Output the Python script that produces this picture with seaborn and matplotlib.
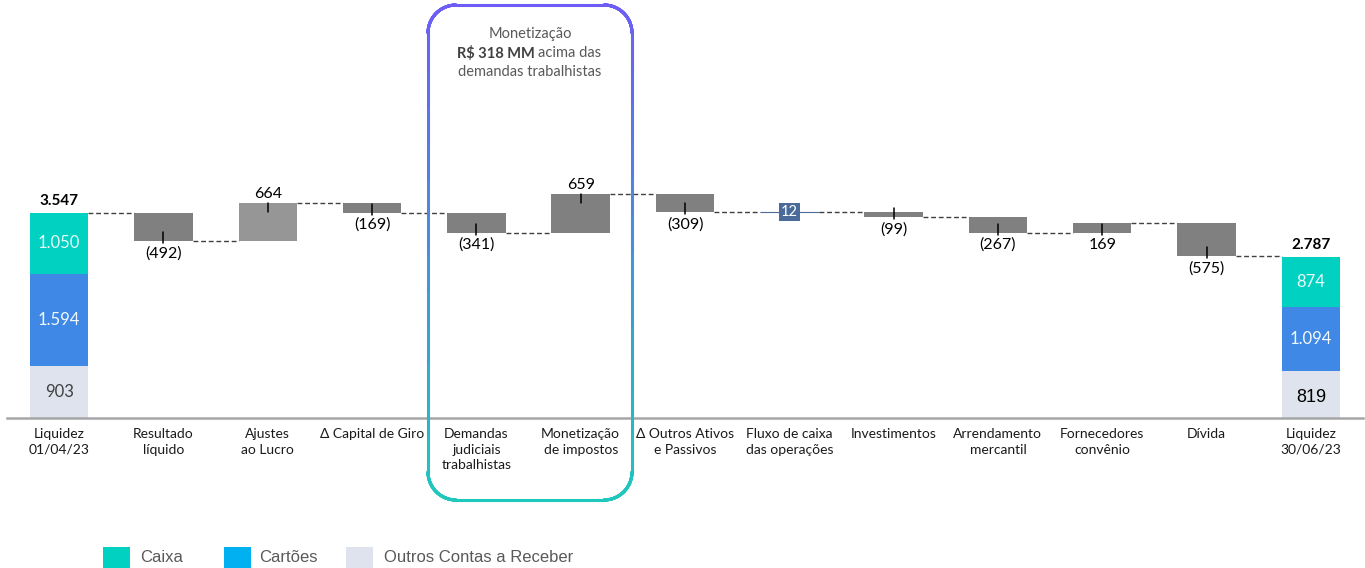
import numpy as np
import matplotlib.pyplot as plt
import seaborn as sns
from matplotlib.collections import LineCollection
from matplotlib.patches import Rectangle
from matplotlib.colors import to_rgb

# data
categories = ["Liquidez\n01/04/23", "Resultado\nlíquido", "Ajustes\nao Lucro", "Δ Capital de Giro",
              "Demandas\njudiciais\ntrabalhistas", "Monetização\nde impostos",
              "Δ Outros Ativos\ne Passivos", "Fluxo de caixa\ndas operações", "Investimentos",
              "Arrendamento\nmercantil", "Fornecedores\nconvênio", "Dívida", "Liquidez\n30/06/23"]
start_parts = [903, 1594, 1050]      # outros, cartões, caixa
end_parts = [819, 1094, 874]
start_part_labels = ["903", "1.594", "1.050"]
end_part_labels = ["819", "1.094", "874"]
start_total_label = "3.547"
end_total_label = "2.787"
deltas = [-492, 664, -169, -341, 659, -309, 12, -99, -267, 169, -575]
delta_labels = ["(492)", "664", "(169)", "(341)", "659", "(309)", "12", "(99)", "(267)", "169", "(575)"]
label_side = ["below", "above", "below", "below", "above", "below", "box", "below", "below", "below", "below"]
legend_names = ["Caixa", "Cartões", "Outros Contas a Receber"]

sns.set_theme(style="white")
plt.rcParams["font.family"] = ["Lato", "DejaVu Sans"]

W, H = 1365, 568
fig = plt.figure(figsize=(W / 100, H / 100), dpi=100)
ax = fig.add_axes([7 / W, (H - 418) / H, (1363 - 7) / W, 413 / H])
ymax = 413 * sum(start_parts) / 205
upp = ymax / 413  # data units per pixel

start_total = sum(start_parts)
cum = start_total + np.cumsum(deltas)
before = np.concatenate([[start_total], cum[:-1]])
after = cum
bottoms = np.minimum(before, after)
heights = np.abs(deltas)

bw = 0.56
# floating bars
sns.barplot(x=categories[1:12], y=heights, bottom=bottoms, order=categories, width=bw,
            color="#808080", saturation=1, errorbar=None, linewidth=0, ax=ax)
delta_bars = list(ax.containers[-1])
delta_bars[1].set_facecolor("#969696")
delta_bars[6].set_facecolor("#4A6A9A")
delta_bars[6].set_edgecolor("#4A6A9A")
delta_bars[6].set_linewidth(0.8)

# stacked totals
part_colors = ["#DEE3EE", "#3F88E5", "#00D1C1"]
sb = np.concatenate([[0], np.cumsum(start_parts)[:-1]])
eb = np.concatenate([[0], np.cumsum(end_parts)[:-1]])
for i in range(3):
    sns.barplot(x=[categories[0], categories[-1]], y=[start_parts[i], end_parts[i]],
                bottom=[sb[i], eb[i]], order=categories, width=bw, color=part_colors[i],
                saturation=1, errorbar=None, linewidth=0, ax=ax)

part_text_colors = ["#404040", "#F2FAFF", "#E8FAF8"]
for i in range(3):
    ax.text(0, sb[i] + start_parts[i] / 2, start_part_labels[i], ha="center", va="center",
            fontsize=12, color=part_text_colors[i])
    if i == 0:
        ax.text(12, eb[i] + end_parts[i] / 2 - 3 * upp, end_part_labels[i], ha="center",
                va="center", fontsize=13, color="#000000", family=["Liberation Sans"])
    else:
        ax.text(12, eb[i] + end_parts[i] / 2, end_part_labels[i], ha="center", va="center",
                fontsize=12, color=part_text_colors[i])
ax.text(0, start_total + 5 * upp, start_total_label, ha="center", va="bottom",
        fontsize=11, fontweight="bold", color="#000000")
ax.text(12, sum(end_parts) + 5 * upp, end_total_label, ha="center", va="bottom",
        fontsize=11, fontweight="bold", color="#000000")

# labels and leader ticks on floating bars
for k, d in enumerate(deltas):
    x = k + 1
    top, bot = bottoms[k] + heights[k], bottoms[k]
    side = label_side[k]
    if side == "above":
        ax.plot([x, x], [top, top - 9 * upp], color="#000000", lw=1.1)
        ax.text(x, top + 2 * upp, delta_labels[k], ha="center", va="bottom", fontsize=11.5,
                color="#000000")
    elif side == "below":
        ax.plot([x, x], [bot + 9 * upp, bot - 2 * upp], color="#000000", lw=1.1)
        ax.text(x, bot - 5 * upp, delta_labels[k], ha="center", va="top", fontsize=11.5,
                color="#000000")
    else:
        ax.text(x, (top + bot) / 2, delta_labels[k], ha="center", va="center", fontsize=10.5,
                color="white", bbox=dict(boxstyle="square,pad=0.15", fc="#4A6A9A", ec="none"))

# dashed connectors
levels = [start_total] + list(after)
for i in range(12):
    ax.plot([i + bw / 2, i + 1 - bw / 2], [levels[i], levels[i]], color="#404040", lw=1.0,
            ls=(0, (3.5, 2)))

ax.set_xlim(-0.5, 12.5)
ax.set_ylim(0, ymax)
ax.set_xticks(range(len(categories)))
ax.set_xticklabels(categories, fontsize=10, color="#1a1a1a", linespacing=1.38)
ax.tick_params(axis="x", length=0, pad=7)
ax.set_yticks([])
ax.set_xlabel("")
ax.set_ylabel("")
for s in ["top", "left", "right"]:
    ax.spines[s].set_visible(False)
ax.spines["bottom"].set_color("#A6A6A6")
ax.spines["bottom"].set_linewidth(1.8)

# rounded highlight box with gradient border (pixel coords -> figure)
x0, x1, y0, y1, r = 428, 632, 5, 500, 28
pts = []
for cx, cy, a0 in [(x1 - r, y0 + r, -90), (x1 - r, y1 - r, 0), (x0 + r, y1 - r, 90), (x0 + r, y0 + r, 180)]:
    for a in np.linspace(a0, a0 + 90, 20):
        t = np.deg2rad(a)
        pts.append((cx + r * np.cos(t), cy + r * np.sin(t)))
pts.append(pts[0])
pts = np.array(pts)
dense = []
for a, b in zip(pts[:-1], pts[1:]):
    for f in np.linspace(0, 1, 12, endpoint=False):
        dense.append(a + (b - a) * f)
dense.append(pts[-1])
dense = np.array(dense)
segs = [[(p[0] / W, 1 - p[1] / H), (q[0] / W, 1 - q[1] / H)] for p, q in zip(dense[:-1], dense[1:])]
c_top, c_bot = np.array(to_rgb("#6E5CF6")), np.array(to_rgb("#1EC8BC"))
cols = []
for p, q in zip(dense[:-1], dense[1:]):
    f = np.clip(((p[1] + q[1]) / 2 - y0) / (y1 - y0), 0, 1)
    cols.append(c_top + (c_bot - c_top) * f)
lc = LineCollection(segs, colors=cols, linewidths=2.2, transform=fig.transFigure,
                    capstyle="round")
fig.add_artist(lc)

tc = "#595959"
fig.text(530 / W, 1 - 34 / H, "Monetização", ha="center", va="center", fontsize=10.5, color=tc)
fig.text(535 / W, 1 - 53 / H, "R$ 318 MM", ha="right", va="center", fontsize=10.5, color="#404040",
         fontweight="bold")
fig.text(538 / W, 1 - 53 / H, "acima das", ha="left", va="center", fontsize=10.5, color=tc)
fig.text(530 / W, 1 - 72 / H, "demandas trabalhistas", ha="center", va="center", fontsize=10.5, color=tc)

# legend
leg_colors = ["#00D1C1", "#00B0F0", "#DEE3EE"]
sq_x = [103, 224, 346]
tx_x = [140, 259, 384]
for c, sx, txx, name in zip(leg_colors, sq_x, tx_x, legend_names):
    fig.add_artist(Rectangle((sx / W, 1 - 575 / H), 27 / W, 28 / H, transform=fig.transFigure,
                             facecolor=c, edgecolor="none"))
    fig.text(txx / W, 1 - 557 / H, name, ha="left", va="center", fontsize=12, color="#595959",
             family=["Liberation Sans"])

fig.savefig("out.png", dpi=100)
